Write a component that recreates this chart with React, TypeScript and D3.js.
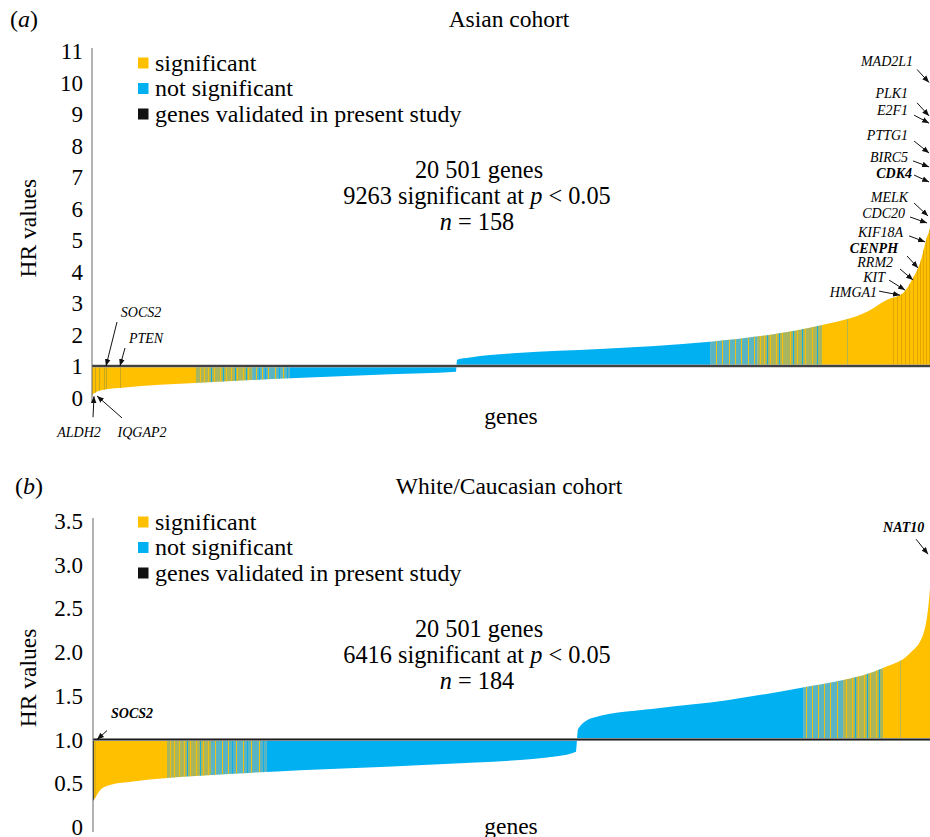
import React from 'react'
import * as d3 from 'd3'

// ---- data ----
const GENE_COUNT = 20501

// sorted HR curve, [gene rank, HR]
const asianCurve: [number, number][] = [
  [0, 0.02], [24, 0.1], [97, 0.17], [195, 0.22], [925, 0.33], [2386, 0.45],
  [4821, 0.61], [7256, 0.74], [8863, 0.82], [8888, 1.2], [9204, 1.27],
  [10349, 1.41], [12370, 1.54], [15048, 1.77], [16436, 1.98], [17775, 2.3],
  [18871, 2.72], [19358, 3.1], [19748, 3.32], [19991, 3.79], [20161, 4.27],
  [20332, 5.1], [20405, 5.4], [20454, 7], [20501, 10.5],
]
const whiteCurve: [number, number][] = [
  [0, 0.3], [49, 0.33], [171, 0.42], [414, 0.48], [975, 0.52], [1804, 0.56],
  [3413, 0.61], [5047, 0.65], [8045, 0.71], [11312, 0.81], [11775, 0.86],
  [11824, 1.12], [12190, 1.25], [13823, 1.36], [15457, 1.45], [17237, 1.59],
  [18285, 1.68], [19260, 1.82], [19918, 1.99], [20235, 2.2], [20406, 2.75],
  [20455, 3.1], [20501, 3.5],
]

// colour runs along the ranks
type Band = { from: number; to: number; kind: string }
const asianBands: Band[] = [
  { from: 0, to: 2530, kind: 'sig' },
  { from: 2530, to: 3900, kind: 'mixY' },
  { from: 3900, to: 4820, kind: 'mixB' },
  { from: 4820, to: 15050, kind: 'ns' },
  { from: 15050, to: 16200, kind: 'mixB' },
  { from: 16200, to: 17775, kind: 'mixY' },
  { from: 17775, to: 20501, kind: 'sig' },
]
const whiteBands: Band[] = [
  { from: 0, to: 1804, kind: 'sig' },
  { from: 1804, to: 2877, kind: 'mixY' },
  { from: 2877, to: 4242, kind: 'mixB' },
  { from: 4242, to: 17310, kind: 'ns' },
  { from: 17310, to: 18285, kind: 'mixB' },
  { from: 18285, to: 19260, kind: 'mixY' },
  { from: 19260, to: 20501, kind: 'sig' },
]

// single genes standing out inside the runs: [rank, kind]
const asianStripes: [number, string][] = [
  [73, 'olive'], [170, 'olive'], [292, 'olive'], [341, 'olive'], [682, 'olive'],
  [2630, 'sig'], [2727, 'sig'], [2825, 'sig'], [2898, 'ns'], [2971, 'sig'], [3117, 'sig'],
  [3190, 'ns'], [3263, 'sig'], [3385, 'sig'], [3482, 'ns'], [3531, 'sig'], [3677, 'sig'],
  [3750, 'ns'], [3799, 'sig'],
  [3993, 'sig'], [4066, 'ns'], [4140, 'sig'], [4213, 'ns'], [4286, 'sig'], [4456, 'sig'],
  [4553, 'ns'], [4651, 'sig'], [4748, 'ns'],
  [15194, 'sig'], [15341, 'sig'], [15511, 'sig'], [15657, 'sig'], [15803, 'sig'],
  [15974, 'sig'], [16120, 'sig'],
  [16266, 'sig'], [16363, 'sig'], [16436, 'ns'], [16509, 'sig'], [16655, 'sig'], [16728, 'ns'],
  [16802, 'sig'], [16996, 'sig'], [17069, 'ns'], [17167, 'sig'], [17289, 'ns'], [17362, 'sig'],
  [17532, 'sig'], [17654, 'ns'],
  [18384, 'mixY'],
  [19504, 'gold'], [19602, 'gold'], [19699, 'gold'], [19797, 'gold'], [19894, 'gold'],
  [19991, 'gold'], [20089, 'gold'], [20162, 'gold'], [20235, 'gold'], [20308, 'gold'], [20381, 'gold'],
]
const whiteStripes: [number, string][] = [
  [0, 'dark'], [40, 'olive'],
  [1877, 'sig'], [1975, 'sig'], [2097, 'sig'], [2219, 'sig'], [2292, 'ns'], [2365, 'sig'],
  [2511, 'sig'], [2609, 'ns'], [2682, 'sig'], [2804, 'sig'],
  [2974, 'sig'], [3145, 'sig'], [3291, 'sig'], [3389, 'ns'], [3486, 'sig'], [3657, 'sig'],
  [3755, 'ns'], [3852, 'sig'], [4047, 'sig'], [4145, 'ns'],
  [17383, 'sig'], [17529, 'sig'], [17675, 'sig'], [17822, 'sig'], [17968, 'sig'], [18139, 'sig'],
  [18358, 'sig'], [18504, 'sig'], [18578, 'ns'], [18651, 'sig'], [18798, 'sig'], [18870, 'ns'],
  [18943, 'sig'], [19090, 'sig'], [19163, 'ns'],
  [19675, 'mixY'],
]

// annotated genes: rank on the curve and HR
type Gene = { gene: string; rank: number; hr: number; bold?: boolean }
const asianGenes: Gene[] = [
  { gene: 'MAD2L1', rank: 20381, hr: 10.0 },
  { gene: 'PLK1', rank: 20381, hr: 8.94 },
  { gene: 'E2F1', rank: 20381, hr: 8.71 },
  { gene: 'PTTG1', rank: 20381, hr: 7.76 },
  { gene: 'BIRC5', rank: 20381, hr: 7.32 },
  { gene: 'CDK4', rank: 20381, hr: 6.84, bold: true },
  { gene: 'MELK', rank: 20357, hr: 5.76 },
  { gene: 'CDC20', rank: 20332, hr: 5.54 },
  { gene: 'KIF18A', rank: 20284, hr: 4.94 },
  { gene: 'CENPH', rank: 20113, hr: 4.11, bold: true },
  { gene: 'RRM2', rank: 19991, hr: 3.73 },
  { gene: 'KIT', rank: 19796, hr: 3.41 },
  { gene: 'HMGA1', rank: 19675, hr: 3.25 },
  { gene: 'SOCS2', rank: 341, hr: 1.0 },
  { gene: 'PTEN', rank: 682, hr: 1.0 },
  { gene: 'ALDH2', rank: 49, hr: 0.04 },
  { gene: 'IQGAP2', rank: 122, hr: 0.05 },
]
const whiteGenes: Gene[] = [
  { gene: 'SOCS2', rank: 98, hr: 1.0, bold: true },
  { gene: 'NAT10', rank: 20357, hr: 3.12, bold: true },
]

const asianTicks = [0, 1, 2, 3, 4, 5, 6, 7, 8, 9, 10, 11]
const whiteTicks = [0, 0.5, 1, 1.5, 2, 2.5, 3, 3.5]

const legendItems = [
  { label: 'significant', kind: 'sig' },
  { label: 'not significant', kind: 'ns' },
  { label: 'genes validated in present study', kind: 'dark' },
]

// ---- layout / style ----
const colors: Record<string, string> = {
  sig: '#FFC000',
  ns: '#00B0F0',
  mixY: '#A9B65E',
  mixB: '#5BB4C2',
  olive: '#C2A622',
  gold: '#DCA500',
  dark: '#111111',
}

// label placement relative to arrow tip: [label dx, label dy, tail dx, tail dy, anchor]
const asianLabelPos: Record<string, [number, number, number, number, string]> = {
  MAD2L1: [-16, -17, -12, -13, 'end'],
  PLK1: [-21, -18, -12, -13, 'end'],
  E2F1: [-21, -8, -15, -8, 'end'],
  PTTG1: [-21, -13, -15, -12, 'end'],
  BIRC5: [-21, -5, -16, -6, 'end'],
  CDK4: [-17, -4, -15, -7, 'end'],
  MELK: [-20, -14, -14, -13, 'end'],
  CDC20: [-22, -5, -17, -6, 'end'],
  KIF18A: [-22, -5, -16, -6, 'end'],
  CENPH: [-20, -15, -11, -12, 'end'],
  RRM2: [-20, -13, -13, -11, 'end'],
  KIT: [-20, -8.5, -16, -10, 'end'],
  HMGA1: [-23, 1.5, -21, -4, 'end'],
  SOCS2: [35, -49, 11, -44, 'middle'],
  PTEN: [26, -23, 5, -18, 'middle'],
  ALDH2: [-15, 41, -1, 21, 'middle'],
  IQGAP2: [45, 41, 25, 22, 'middle'],
}
const whiteLabelPos: Record<string, [number, number, number, number, string]> = {
  SOCS2: [35, -22, 10, -9, 'middle'],
  NAT10: [-45, -22, -12, -15, 'start'],
}

const FONT = '"Liberation Serif", "Times New Roman", Times, serif'

type PanelProps = {
  id: string
  letter: string
  title: string
  curve: [number, number][]
  bands: Band[]
  stripes: [number, string][]
  genes: Gene[]
  labelPos: Record<string, [number, number, number, number, string]>
  ticks: number[]
  tickFmt: (v: number) => string
  yMax: number
  yTop: number
  yBottom: number
  xLeft: number
  titleY: number
  legendY: number
  statsY: number
  stats: [string, string]
  genesY: number
}

function Panel(p: PanelProps) {
  const x = d3.scaleLinear().domain([0, GENE_COUNT]).range([p.xLeft, 934])
  const y = d3.scaleLinear().domain([0, p.yMax]).range([p.yBottom, p.yTop])
  const area = d3.area<[number, number]>()
    .x(d => x(d[0]))
    .y0(y(1))
    .y1(d => y(d[1]))
    .curve(d3.curveMonotoneX)
  const path = area(p.curve) || ''
  const stripeW = 22

  return (
    <g>
      <defs>
        <clipPath id={'clip-' + p.id}>
          <path d={path} />
        </clipPath>
      </defs>

      <text x={p.letter === 'a' ? 10 : 15} y={p.titleY} fontSize={24}>
        (<tspan fontStyle="italic">{p.letter}</tspan>)
      </text>
      <text x={509} y={p.titleY} fontSize={23.5} textAnchor="middle">{p.title}</text>

      <g clipPath={`url(#clip-${p.id})`}>
        {p.bands.map((b, i) => (
          <rect key={i} x={x(b.from)} width={x(b.to) - x(b.from) + 0.3}
            y={p.yTop - 20} height={p.yBottom - p.yTop + 40} fill={colors[b.kind]} />
        ))}
        {p.stripes.map(([r, k], i) => (
          <rect key={'s' + i} x={x(r)} width={x(r + stripeW) - x(r)}
            y={p.yTop - 20} height={p.yBottom - p.yTop + 40} fill={colors[k]} />
        ))}
      </g>

      <line x1={p.xLeft} x2={930} y1={y(1)} y2={y(1)} stroke="#aaa" strokeWidth={3} />
      <line x1={p.xLeft} x2={930} y1={y(1)} y2={y(1)} stroke="#1e1e1e" strokeWidth={1.6} />
      <line x1={p.xLeft} x2={p.xLeft} y1={y(p.yMax) - 3} y2={y(0) + 5} stroke="#666" strokeWidth={1} />

      {p.ticks.map(t => (
        <text key={t} x={83} y={y(t)} dy="0.35em" textAnchor="end" fontSize={23}>{p.tickFmt(t)}</text>
      ))}
      <text transform={`translate(36,${(y(p.yMax) + y(0)) / 2 + 4}) rotate(-90)`} textAnchor="middle" fontSize={23.5}>
        HR values
      </text>
      <text x={511} y={p.genesY} textAnchor="middle" fontSize={23.5}>genes</text>

      {legendItems.map((l, i) => (
        <g key={l.label} transform={`translate(138,${p.legendY + i * 25.5})`}>
          <rect x={0} y={-5.5} width={10.5} height={11} fill={colors[l.kind]} />
          <text x={17} y={0} dy="0.33em" fontSize={24}>{l.label}</text>
        </g>
      ))}

      <g textAnchor="middle" fontSize={24.3}>
        <text x={479} y={p.statsY}>20 501 genes</text>
        <text x={477} y={p.statsY + 26}>
          {p.stats[0]} significant at <tspan fontStyle="italic">p</tspan> {'<'} 0.05
        </text>
        <text x={477} y={p.statsY + 52}>
          <tspan fontStyle="italic">n</tspan> = {p.stats[1]}
        </text>
      </g>

      {p.genes.map(g => {
        const [lx, ly, tx, ty, anchor] = p.labelPos[g.gene]
        const gx = x(g.rank)
        const gy = y(g.hr)
        return (
          <g key={g.gene}>
            <line x1={gx + tx} y1={gy + ty} x2={gx} y2={gy} stroke="#111" strokeWidth={1}
              markerEnd="url(#arrowhead)" />
            <text x={gx + lx} y={gy + ly} textAnchor={anchor} fontSize={14} fontStyle="italic"
              fontWeight={g.bold ? 'bold' : 'normal'}>{g.gene}</text>
          </g>
        )
      })}
    </g>
  )
}

export default function App() {
  return (
    <svg width={930} height={837}
      style={{ position: 'absolute', left: 0, top: 0, background: '#fff', display: 'block', fontFamily: FONT }}>
      <defs>
        <marker id="arrowhead" viewBox="0 0 10 10" refX={10} refY={5} markerWidth={7} markerHeight={7}
          markerUnits="userSpaceOnUse" orient="auto">
          <path d="M0,1 L10,5 L0,9 z" fill="#111" />
        </marker>
      </defs>
      <rect width={930} height={837} fill="#fff" />
      <Panel id="a" letter="a" title="Asian cohort" curve={asianCurve} bands={asianBands}
        stripes={asianStripes} genes={asianGenes} labelPos={asianLabelPos} ticks={asianTicks}
        tickFmt={v => String(v)} yMax={11} yTop={51} yBottom={397.5} xLeft={92}
        titleY={27} legendY={63} statsY={178} stats={['9263', '158']} genesY={424} />
      <Panel id="b" letter="b" title="White/Caucasian cohort" curve={whiteCurve} bands={whiteBands}
        stripes={whiteStripes} genes={whiteGenes} labelPos={whiteLabelPos} ticks={whiteTicks}
        tickFmt={v => (v === 0 ? '0' : v.toFixed(1))} yMax={3.5} yTop={521} yBottom={827} xLeft={93}
        titleY={494} legendY={522} statsY={637} stats={['6416', '184']} genesY={834} />
    </svg>
  )
}
